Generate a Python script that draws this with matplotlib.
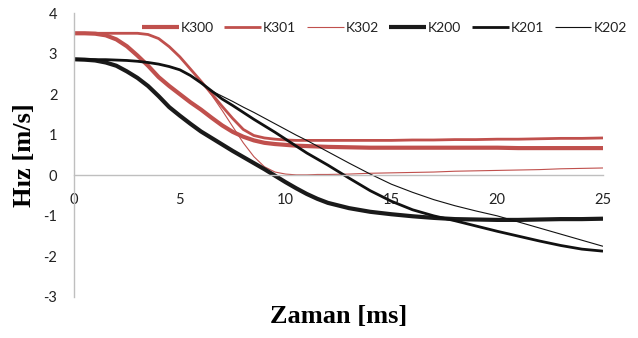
import matplotlib
matplotlib.use("Agg")
import matplotlib.pyplot as plt

plt.rcParams["axes.unicode_minus"] = False

# ──────────────────────────────────────────────
# Data
# ──────────────────────────────────────────────
# half-ms steps while the curves bend, 1 ms steps afterwards
t = [0, 0.5, 1, 1.5, 2, 2.5, 3, 3.5, 4, 4.5, 5, 5.5, 6, 6.5, 7, 7.5, 8, 8.5, 9, 9.5, 10, 10.5, 11, 11.5, 12,
     13, 14, 15, 16, 17, 18, 19, 20, 21, 22, 23, 24, 25]

k300 = [3.50, 3.50, 3.49, 3.45, 3.35, 3.18, 2.95, 2.70, 2.42, 2.20, 2.00, 1.80, 1.62, 1.42, 1.23, 1.07,
        0.95, 0.86, 0.80, 0.77, 0.75, 0.73, 0.72, 0.71, 0.70,
        0.69, 0.68, 0.68, 0.68, 0.68, 0.68, 0.68, 0.68, 0.67, 0.67, 0.67, 0.67, 0.67]
k301 = [3.50, 3.50, 3.50, 3.50, 3.50, 3.50, 3.50, 3.47, 3.37, 3.17, 2.92, 2.62, 2.32, 2.01, 1.70, 1.40,
        1.13, 0.98, 0.92, 0.89, 0.87, 0.86, 0.86, 0.86, 0.86,
        0.86, 0.86, 0.86, 0.87, 0.87, 0.88, 0.88, 0.89, 0.89, 0.90, 0.91, 0.91, 0.92]
k302 = [3.50, 3.50, 3.50, 3.50, 3.50, 3.50, 3.50, 3.47, 3.37, 3.17, 2.92, 2.62, 2.32, 1.98, 1.60, 1.20,
        0.80, 0.46, 0.21, 0.08, 0.03, 0.01, 0.01, 0.02, 0.02,
        0.03, 0.05, 0.06, 0.07, 0.08, 0.10, 0.11, 0.12, 0.13, 0.14, 0.16, 0.17, 0.18]
k200 = [2.86, 2.85, 2.83, 2.78, 2.70, 2.56, 2.40, 2.20, 1.95, 1.68, 1.47, 1.27, 1.08, 0.92, 0.76, 0.60,
        0.45, 0.30, 0.15, -0.01, -0.17, -0.32, -0.46, -0.58, -0.68,
        -0.81, -0.90, -0.96, -1.01, -1.05, -1.08, -1.09, -1.10, -1.10, -1.09, -1.08, -1.08, -1.07]
k201 = [2.85, 2.85, 2.85, 2.85, 2.84, 2.83, 2.81, 2.78, 2.74, 2.68, 2.60, 2.46, 2.28, 2.08, 1.88, 1.72,
        1.55, 1.38, 1.22, 1.06, 0.89, 0.72, 0.55, 0.40, 0.25,
        -0.07, -0.38, -0.64, -0.85, -1.00, -1.12, -1.25, -1.38, -1.50, -1.62, -1.73, -1.82, -1.87]
k202 = [2.85, 2.85, 2.85, 2.85, 2.84, 2.83, 2.81, 2.78, 2.74, 2.68, 2.60, 2.46, 2.28, 2.08, 1.95, 1.82,
        1.68, 1.55, 1.41, 1.27, 1.13, 0.99, 0.86, 0.72, 0.58,
        0.30, 0.03, -0.22, -0.42, -0.60, -0.75, -0.88, -1.00, -1.15, -1.30, -1.45, -1.60, -1.75]

series_names = ["K300", "K301", "K302", "K200", "K201", "K202"]
series_vals = [k300, k301, k302, k200, k201, k202]

RED = "#c0504d"
BLACK = "#111111"
styles = {
    "K300": (RED, 3.0),
    "K301": (RED, 2.0),
    "K302": (RED, 0.8),
    "K200": ("#1a1a1a", 3.0),
    "K201": (BLACK, 2.0),
    "K202": (BLACK, 0.8),
}

# ──────────────────────────────────────────────
# Figure
# ──────────────────────────────────────────────
fig = plt.figure(figsize=(6.38, 3.38), dpi=100)
ax = fig.add_axes([74 / 638, 1 - 297 / 338, 529 / 638, 284 / 338])

for name, vals in zip(series_names, series_vals):
    color, lw = styles[name]
    ax.plot(t, vals, color=color, linewidth=lw, label=name,
            solid_joinstyle="round", solid_capstyle="butt")

ax.set_xlim(0, 25)
ax.set_ylim(-3, 4)
ax.set_xticks(range(0, 26, 5))
ax.set_yticks(range(-3, 5))

for side in ["top", "right"]:
    ax.spines[side].set_visible(False)
ax.spines["bottom"].set_position(("data", 0))
for side in ["left", "bottom"]:
    ax.spines[side].set_color("#bfbfbf")
    ax.spines[side].set_linewidth(1.0)

ax.tick_params(axis="x", length=0, pad=13, labelcolor="#222222")
ax.tick_params(axis="y", length=0, pad=12, labelcolor="#222222")
for lab in ax.get_xticklabels() + ax.get_yticklabels():
    lab.set_fontfamily("Lato")
    lab.set_fontsize(10.5)

ax.set_xlabel("Zaman [ms]", fontfamily="Liberation Serif", fontweight="bold",
              fontsize=19, va="center")
ax.xaxis.set_label_coords(0.5, -0.068)
ax.set_ylabel("Hız [m/s]", fontfamily="Liberation Serif", fontweight="bold",
              fontsize=19, va="center")
ax.yaxis.set_label_coords(-0.093, 0.5)

leg = ax.legend(loc="center right", bbox_to_anchor=(1.045, 0.947), ncol=6, frameon=False,
                handlelength=2.65, handletextpad=0.15, columnspacing=0.75,
                borderaxespad=0, borderpad=0,
                prop={"family": "Lato", "size": 10})
for txt in leg.get_texts():
    txt.set_color("#222222")

fig.savefig("out.png", dpi=100, facecolor="white")
